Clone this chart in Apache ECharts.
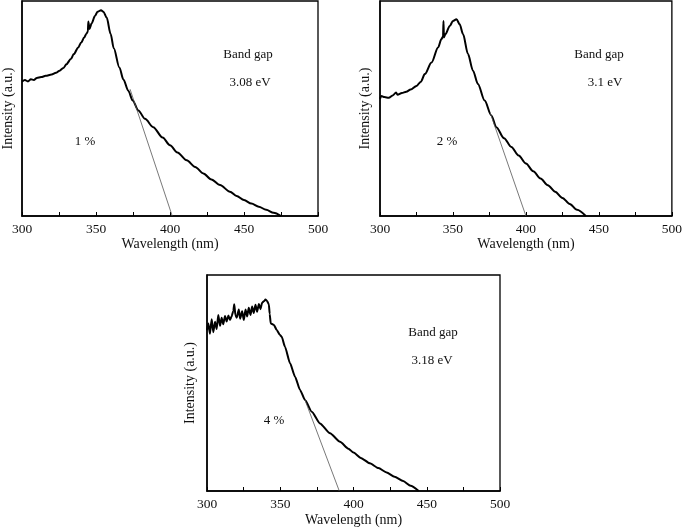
<!DOCTYPE html>
<html>
<head>
<meta charset="utf-8">
<script src="https://cdn.jsdelivr.net/npm/echarts@6/dist/echarts.min.js"></script>
<style>
html,body{margin:0;padding:0;background:#fff;}
#chart{width:685px;height:530px;}
</style>
</head>
<body>
<div id="chart"></div>
<script>
// ---- Data (wavelength in nm, intensity in arbitrary units, 0..100 of panel height) ----
var wl1 = [300,302,304,306,308,310,313,316,320,323,325,328,330,333,335,338,340,342,343.5,344.5,344.8,345.6,347,349.3,351,353.4,355,357.2,359.9,362,365.8,368.5,371.8,374.8,378.6,383.1,388.7,395,400,405,411.3,417,422.5,428,433.8,440.5,445,450,455,460,465,470,475];
var int1 = [62.5,63.2,62.6,63.6,63.3,64.2,64.6,65.2,65.8,66.6,67.4,68.8,70.6,73,75.3,78.4,80.7,83,84.8,85.8,90.5,87,89.5,93,95,95.7,95,92.3,84.6,78,69.1,63.5,58.3,53.7,49.1,45.2,41.3,36.5,32.9,29.5,25.9,22.8,19.8,17,14.4,11.3,9.3,7.4,5.8,4.3,2.9,1.5,0];
var tan1x = [373, 401.5];
var tan1y = [59, 0];

var wl2 = [300,301,303,306,309,311,312,315,318,321,325,328,330.7,335.3,339.8,342.1,343.2,343.5,343.8,344.8,347.8,350,352.4,354.6,356.9,360.3,363.7,367.1,371.7,376.3,379.7,385,390,395,400,405,410,415,420,425,430,435,441];
var int2 = [54.5,55.8,55.3,55,56.2,57.5,56.4,57.2,57.8,58.8,60.5,62.5,66,71.4,78.4,82.3,83.5,90.7,83,84.6,88.4,90.7,91.5,89.2,84.6,75.3,67.6,61.4,53.7,46.8,41.3,36.2,32.1,28.1,24.4,20.8,17.4,14.3,11.3,8.4,5.6,2.9,0];
var tan2x = [375.5, 400];
var tan2y = [48, 0];

var wl3 = [300,300.9,302,303.2,304.3,305.5,306.6,307.7,308.9,310,311.1,312.3,313.4,314.6,315.7,316.8,318,318.6,319.4,320.3,321.7,322.6,324,325.1,326.3,327.4,328.5,329.7,330.8,331.9,333.1,334.2,335.4,336.5,337.6,338.8,339.9,341,342.2,342.8,343.5,345.7,347.6,349.8,351,353.2,356.7,360.1,363.5,366.9,371.5,377.1,384,390.8,396.5,400,405,411.2,417,422.6,428,433.9,439,444.5];
var int3 = [74.5,77.5,72.8,79.5,73.5,78.4,75,81.5,76.5,80.2,77.2,81,78.5,81.2,79.2,80.8,83.5,86.5,81.5,80.2,84,79.8,83.2,79.2,84,80.8,84.8,81.5,85.4,82.4,86.2,83,86.6,84.2,87.2,87.8,88.6,88,86.5,82,77.6,76.9,74.5,72.2,71.4,66.8,59.1,52.9,46.8,42.1,36.7,31.3,26.7,22.8,19.6,17.8,15.3,12.8,10.6,8.6,6.6,4.6,2.4,0];
var tan3x = [366.9, 390.3];
var tan3y = [42.1, 0];

var xTicks = [300, 350, 400, 450, 500];
var labelsTop = [["Band gap", "3.08 eV", "1 %"], ["Band gap", "3.1 eV", "2 %"], ["Band gap", "3.18 eV", "4 %"]];

function zip(xs, ys) { return xs.map(function (x, i) { return [x, ys[i]]; }); }

var FONT = '"Liberation Serif", "DejaVu Serif", serif';

var grids = [
  { left: 22, top: 1, width: 296, height: 215 },
  { left: 380, top: 1, width: 293, height: 215 },
  { left: 207, top: 275, width: 293, height: 216 }
];
var yNameGaps = [7, 8, 10];
var xNameGaps = [19, 19, 22];

var option = {
  backgroundColor: '#fff',
  animation: false,
  grid: grids.map(function (g) {
    return Object.assign({ show: true, borderColor: '#000', borderWidth: 1.3, backgroundColor: 'transparent' }, g);
  }),
  xAxis: grids.map(function (g, i) {
    return {
      gridIndex: i, type: 'value', min: 300, max: 500, interval: 25,
      name: 'Wavelength (nm)', nameLocation: 'middle', nameGap: xNameGaps[i],
      nameTextStyle: { fontFamily: FONT, fontSize: 14, color: '#111' },
      axisLine: { show: true, lineStyle: { color: '#000', width: 1.5 } },
      axisTick: { show: true, inside: true, length: 4, lineStyle: { color: '#000', width: 1 } },
      axisLabel: {
        margin: 6, fontFamily: FONT, fontSize: 13.5, color: '#111',
        formatter: function (v) { return xTicks.indexOf(v) >= 0 ? String(v) : ''; }
      },
      splitLine: { show: false }
    };
  }),
  yAxis: grids.map(function (g, i) {
    return {
      gridIndex: i, type: 'value', min: 0, max: 100,
      name: 'Intensity (a.u.)', nameLocation: 'middle', nameGap: yNameGaps[i], nameRotate: 90,
      nameTextStyle: { fontFamily: FONT, fontSize: 14, color: '#111' },
      axisLine: { show: true, lineStyle: { color: '#000', width: 1.5 } },
      axisTick: { show: false },
      axisLabel: { show: false },
      splitLine: { show: false }
    };
  }),
  series: [
    { type: 'line', xAxisIndex: 0, yAxisIndex: 0, data: zip(wl1, int1), showSymbol: false, smooth: 0.3, smoothMonotone: 'x', lineStyle: { color: '#000', width: 2 } },
    { type: 'line', xAxisIndex: 0, yAxisIndex: 0, data: zip(tan1x, tan1y), showSymbol: false, lineStyle: { color: '#555', width: 0.8 } },
    { type: 'line', xAxisIndex: 1, yAxisIndex: 1, data: zip(wl2, int2), showSymbol: false, smooth: 0.3, smoothMonotone: 'x', lineStyle: { color: '#000', width: 2 } },
    { type: 'line', xAxisIndex: 1, yAxisIndex: 1, data: zip(tan2x, tan2y), showSymbol: false, lineStyle: { color: '#555', width: 0.8 } },
    { type: 'line', xAxisIndex: 2, yAxisIndex: 2, data: zip(wl3, int3), showSymbol: false, smooth: 0.2, smoothMonotone: 'x', lineStyle: { color: '#000', width: 2 } },
    { type: 'line', xAxisIndex: 2, yAxisIndex: 2, data: zip(tan3x, tan3y), showSymbol: false, lineStyle: { color: '#555', width: 0.8 } }
  ],
  graphic: []
};

var textPos = [
  [[248, 55], [250, 83], [85, 142]],
  [[599, 55], [605, 83], [447, 142]],
  [[433, 333], [432, 361], [274, 421]]
];
labelsTop.forEach(function (set, p) {
  set.forEach(function (t, k) {
    option.graphic.push({
      type: 'text', x: textPos[p][k][0], y: textPos[p][k][1],
      style: { text: t, font: '13px ' + FONT, fill: '#111', align: 'center', verticalAlign: 'middle' }
    });
  });
});

var chart = echarts.init(document.getElementById('chart'), null, { renderer: 'canvas' });
chart.setOption(option);
</script>
</body>
</html>
